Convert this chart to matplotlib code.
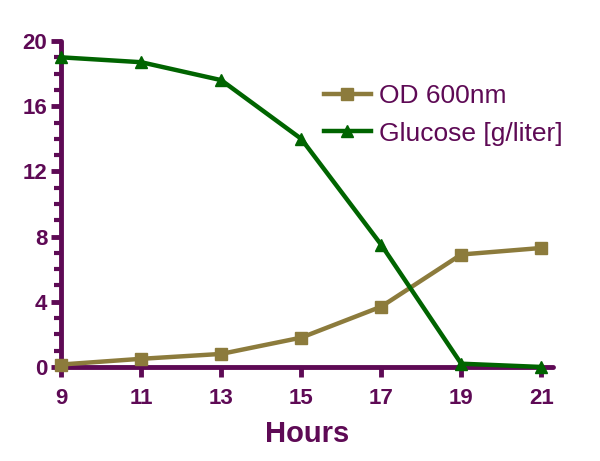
import matplotlib
matplotlib.use('Agg')
import matplotlib.pyplot as plt
from matplotlib.ticker import MultipleLocator

hours = [9, 11, 13, 15, 17, 19, 21]
od600 = [0.15, 0.5, 0.8, 1.8, 3.7, 6.9, 7.3]
glucose = [19.0, 18.7, 17.6, 14.0, 7.5, 0.2, 0.0]

purple = '#5e0a55'
olive = '#8c7b3c'
green = '#006400'

plt.rcParams['font.family'] = ['Liberation Sans', 'DejaVu Sans']

fig = plt.figure(figsize=(6, 4.61), dpi=100)
ax = fig.add_axes([0.102, 0.204, 0.82, 0.707])

ax.plot(hours, od600, color=olive, lw=3.2, marker='s', ms=9, label='OD 600nm', clip_on=False, zorder=3)
ax.plot(hours, glucose, color=green, lw=3.2, marker='^', ms=9, label='Glucose [g/liter]', clip_on=False, zorder=4)

ax.set_xlim(9, 21.3)
ax.set_ylim(0, 20)
ax.set_xticks(hours)
ax.yaxis.set_major_locator(MultipleLocator(4))
ax.yaxis.set_minor_locator(MultipleLocator(1))

for s in ['top', 'right']:
    ax.spines[s].set_visible(False)
for s in ['left', 'bottom']:
    ax.spines[s].set_color(purple)
    ax.spines[s].set_linewidth(3.5)
    ax.spines[s].set_capstyle('round')

ax.tick_params(which='major', direction='out', length=7, width=3.5, color=purple,
               labelcolor=purple, labelsize=16, pad=3)
ax.tick_params(axis='x', which='major', pad=8)
ax.tick_params(which='minor', direction='out', length=5, width=3, color=purple)
for lbl in ax.get_xticklabels() + ax.get_yticklabels():
    lbl.set_fontweight('bold')

ax.set_xlabel('Hours', fontsize=21, fontweight='bold', color=purple, labelpad=8)

leg = ax.legend(loc='upper left', bbox_to_anchor=(0.485, 0.94), frameon=False,
                fontsize=19, handlelength=1.8, handletextpad=0.3, labelspacing=0.5)
for t in leg.get_texts():
    t.set_color(purple)

fig.savefig('out.png', dpi=100)
